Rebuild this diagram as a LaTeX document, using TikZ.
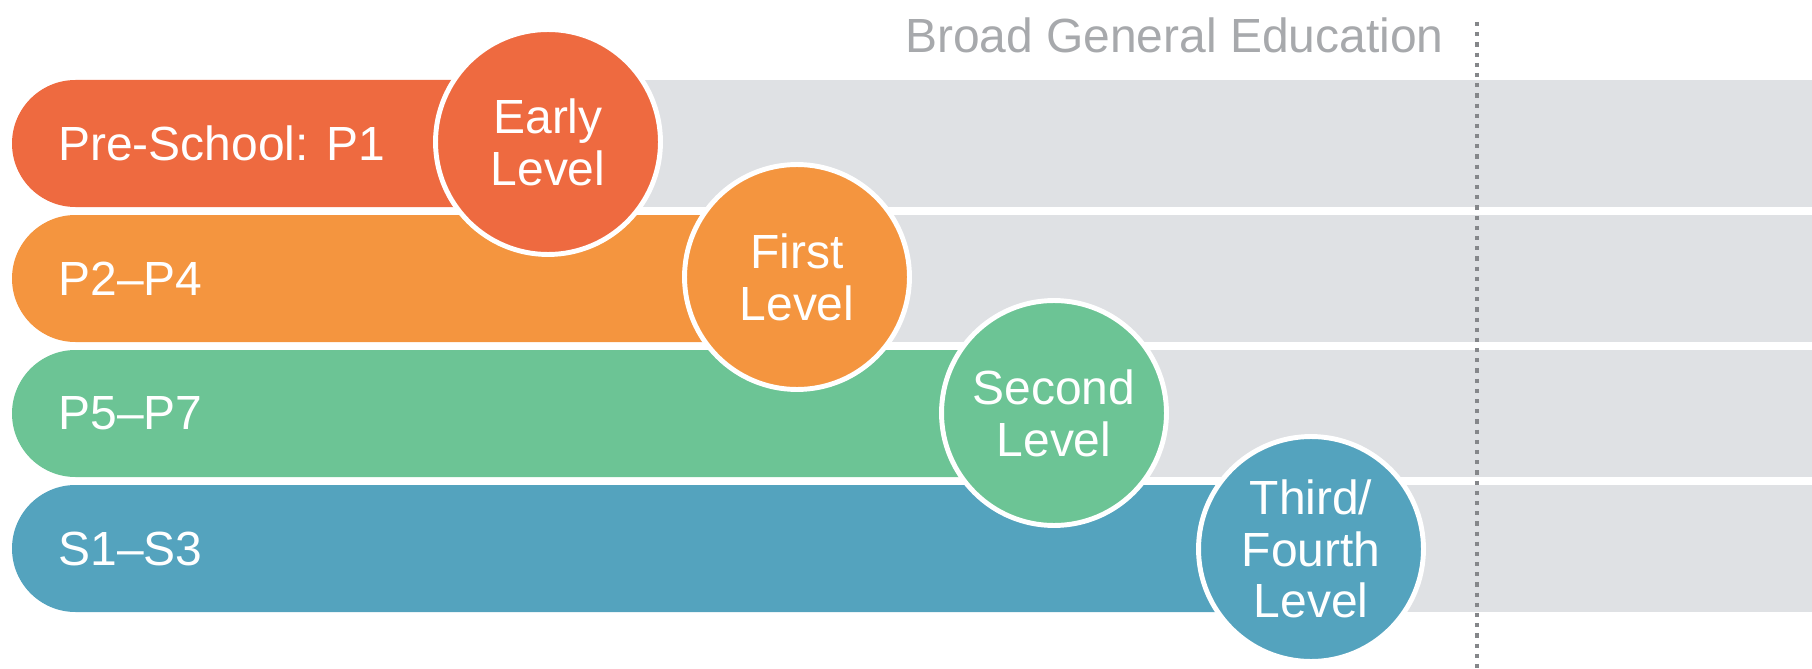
\documentclass[tikz,border=0pt]{standalone}
\usepackage{fontspec}
\setmainfont{Liberation Sans}

\definecolor{earlyc}{HTML}{EE6A40}
\definecolor{firstc}{HTML}{F4953F}
\definecolor{secondc}{HTML}{6CC495}
\definecolor{thirdc}{HTML}{54A3BE}
\definecolor{bandc}{HTML}{DFE1E4}
\definecolor{headc}{HTML}{A7A9AC}
\definecolor{divc}{HTML}{85878A}

\newcommand{\lvlfont}{\fontsize{27.3}{29.5}\selectfont}

\tikzset{
  band/.style={fill=bandc},
  bar/.style={rounded corners=1.27cm},
  level/.style={circle, draw=white, line width=2.8pt, minimum size=4.5cm,
    inner sep=0pt, text=white, align=center, font=\lvlfont},
  stage/.style={anchor=west, text=white, font=\lvlfont, inner sep=0pt},
  divider/.style={draw=divc, line width=1.9pt, dash pattern=on 2.4pt off 3.4pt},
}

\begin{document}
\begin{tikzpicture}[x=0.02cm, y=-0.02cm]

\useasboundingbox (0,0) rectangle (1812,669);

%% grey bands
\foreach \ny in {80,215,350,485}
{
  \fill[band] (300,\ny) rectangle (1812,\ny+127);
}

%% coloured bars
\fill[bar, earlyc] (12,80) rectangle (547,207);
\fill[bar, firstc] (12,215) rectangle (802,342);
\fill[bar, secondc] (12,350) rectangle (1057,477);
\fill[bar, thirdc] (12,485) rectangle (1312,612);

%% stages
\node[stage] (pre) at (58,143.5) {Pre-School: P1};
\node[stage] (ptwo) at (58,278.5) {P2--P4};
\node[stage] (pfive) at (58,413.5) {P5--P7};
\node[stage] (sone) at (58,548.5) {S1--S3};

%% levels
\node[level, fill=earlyc] (early) at (548,142) {Early\\Level};
\node[level, fill=firstc] (first) at (797,277) {First\\Level};
\node[level, fill=secondc] (second) at (1054,413) {Second\\Level};
\node[level, fill=thirdc] (third) at (1311,549) {Third/\\Fourth\\Level};

%% heading and divider
\node[anchor=east, text=headc, font=\lvlfont, inner sep=0pt] (bge) at (1444,35) {Broad General Education};
\coordinate (divtop) at (1477,22);
\coordinate (divbot) at (1477,669);
\draw[divider] (divtop) -- (divbot);

\end{tikzpicture}
\end{document}
